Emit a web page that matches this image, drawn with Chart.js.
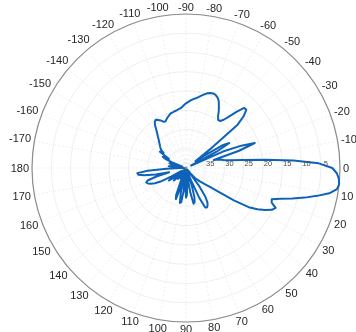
<!DOCTYPE html>
<html>
<head>
<meta charset="utf-8">
<script src="https://cdn.jsdelivr.net/npm/chart.js@4.4.1/dist/chart.umd.min.js"></script>
<style>
  html, body { margin: 0; padding: 0; background: #fff; overflow: hidden; }
  #wrap { position: absolute; left: 0; top: 0; width: 356px; height: 332px; }
</style>
</head>
<body>
<div id="wrap"><canvas id="c"></canvas></div>
<script>
// Azimuth samples in degrees, measured clockwise from 0 (east)
const angleStep = 2;
const angles = Array.from({ length: 180 }, (_, i) => i * angleStep);

// Relative level (dB below peak) at each azimuth, 0..358 deg
const attenuation = [
  2.0, 0.8, 0.2, 0.0, 0.4, 2.2, 5.2, 8.2, 11.3, 14.2,
  16.3, 16.0, 14.5, 15.2, 16.8, 18.6, 20.8, 25.0, 29.5, 31.8,
  33.2, 34.2, 35.0, 35.8, 36.4, 38.0, 39.5, 34.0, 31.0, 29.5,
  28.8, 28.4, 28.6, 31.5, 36.5, 39.5, 35.0, 32.0, 30.8, 30.5,
  33.5, 38.5, 39.5, 35.5, 33.0, 32.3, 35.0, 39.0, 34.0, 31.0,
  30.8, 33.5, 38.5, 34.5, 31.5, 32.5, 36.5, 39.5, 38.0, 37.0,
  38.5, 39.5, 37.5, 36.5, 38.5, 39.5, 37.0, 35.5, 37.0, 39.0,
  37.5, 35.5, 34.5, 36.0, 38.5, 35.5, 32.5, 31.0, 30.0, 29.3,
  29.0, 29.5, 32.0, 35.5, 32.0, 29.0, 27.5, 27.3, 30.0, 35.0,
  38.5, 39.5, 37.0, 35.5, 37.5, 39.0, 37.5, 36.0, 35.5, 37.5,
  39.0, 36.0, 34.0, 33.3, 35.0, 34.0, 32.0, 33.0, 32.0, 31.6,
  31.2, 30.8, 30.3, 29.8, 29.1, 28.4, 27.5, 26.3, 25.5, 25.2,
  25.6, 26.0, 26.6, 26.8, 26.4, 26.0, 25.7, 25.3, 25.2, 25.0,
  24.9, 24.7, 24.5, 24.2, 23.7, 23.2, 22.8, 22.4, 22.0, 21.7,
  21.3, 20.8, 20.3, 19.8, 19.5, 19.4, 19.5, 19.9, 20.6, 21.8,
  23.0, 24.3, 25.0, 24.9, 24.1, 22.5, 20.4, 18.3, 18.2, 19.8,
  22.5, 31.5, 37.0, 34.5, 29.0, 27.0, 31.0, 38.5, 29.5, 24.5,
  21.0, 25.5, 32.5, 31.0, 30.0, 28.5, 25.0, 19.5, 12.0, 5.5
];

// Angular tick labels every 10 degrees, starting at 0 and going clockwise
const angleTickStep = 10;
const angleTickLabels = [
  '0', '10', '20', '30', '40', '50', '60', '70', '80', '90',
  '100', '110', '120', '130', '140', '150', '160', '170', '180',
  '-170', '-160', '-150', '-140', '-130', '-120', '-110', '-100',
  '-90', '-80', '-70', '-60', '-50', '-40', '-30', '-20', '-10'
];

// Radial axis: 0 dB on the rim, 40 dB at the centre
const rMin = 0, rMax = 40, rStep = 5;
const radialTicks = [35, 30, 25, 20, 15, 10, 5];

const gridColor = 'rgba(0,0,0,0.085)';

// Rim circle plus angle / level annotations
const polarDecor = {
  id: 'polarDecor',
  beforeDatasetsDraw(chart) {
    const s = chart.scales.r, ctx = chart.ctx;
    ctx.save();
    ctx.beginPath();
    ctx.arc(s.xCenter, s.yCenter, s.getDistanceFromCenterForValue(rMin), 0, Math.PI * 2);
    ctx.strokeStyle = '#8c8c8c';
    ctx.lineWidth = 1.2;
    ctx.stroke();
    ctx.restore();
  },
  afterDatasetsDraw(chart) {
    const s = chart.scales.r, ctx = chart.ctx;
    const outer = s.getDistanceFromCenterForValue(rMin);
    ctx.save();
    ctx.textAlign = 'center';
    ctx.textBaseline = 'middle';

    ctx.font = '11px "Liberation Sans", Arial, sans-serif';
    ctx.fillStyle = '#262626';
    angleTickLabels.forEach((txt, k) => {
      const idx = angles.indexOf(k * angleTickStep);
      const w = ctx.measureText(txt).width;
      const u = s.getPointPosition(idx, 1);
      const cx = u.x - s.xCenter, sy = u.y - s.yCenter;
      const d = outer + 3 + (Math.abs(cx) * w + Math.abs(sy) * 8) / 2;
      const p = s.getPointPosition(idx, d);
      ctx.fillText(txt, p.x, p.y + 0.5);
    });

    ctx.font = '7.5px "Liberation Sans", Arial, sans-serif';
    ctx.fillStyle = '#4a4a4a';
    radialTicks.forEach(v => {
      const d = s.getDistanceFromCenterForValue(v);
      ctx.fillText(String(v), s.xCenter + d + 5, s.yCenter - 4);
    });
    ctx.restore();
  }
};

new Chart(document.getElementById('c'), {
  type: 'radar',
  data: {
    labels: angles,
    datasets: [{
      data: attenuation,
      borderColor: '#0e63b8',
      borderWidth: 2,
      pointRadius: 0,
      fill: false,
      tension: 0
    }]
  },
  options: {
    responsive: true,
    maintainAspectRatio: false,
    animation: false,
    layout: { padding: { left: 32.5, right: 15.5, top: 14, bottom: 10 } },
    plugins: { legend: { display: false }, tooltip: { enabled: false } },
    elements: { line: { borderJoinStyle: 'round', borderCapStyle: 'round' } },
    scales: {
      r: {
        min: rMin,
        max: rMax,
        reverse: true,
        startAngle: 90,
        ticks: { stepSize: rStep, display: false },
        grid: {
          circular: true,
          color: ctx => (ctx.tick && ctx.tick.value === rMax) ? 'rgba(0,0,0,0)' : gridColor,
          lineWidth: 0.8,
          borderDash: [2, 2]
        },
        angleLines: {
          color: gridColor,
          lineWidth: ctx => (angles[ctx.index] % angleTickStep === 0 ? 0.8 : 0),
          borderDash: [2, 2]
        },
        pointLabels: { display: false }
      }
    }
  },
  plugins: [polarDecor]
});
</script>
</body>
</html>
